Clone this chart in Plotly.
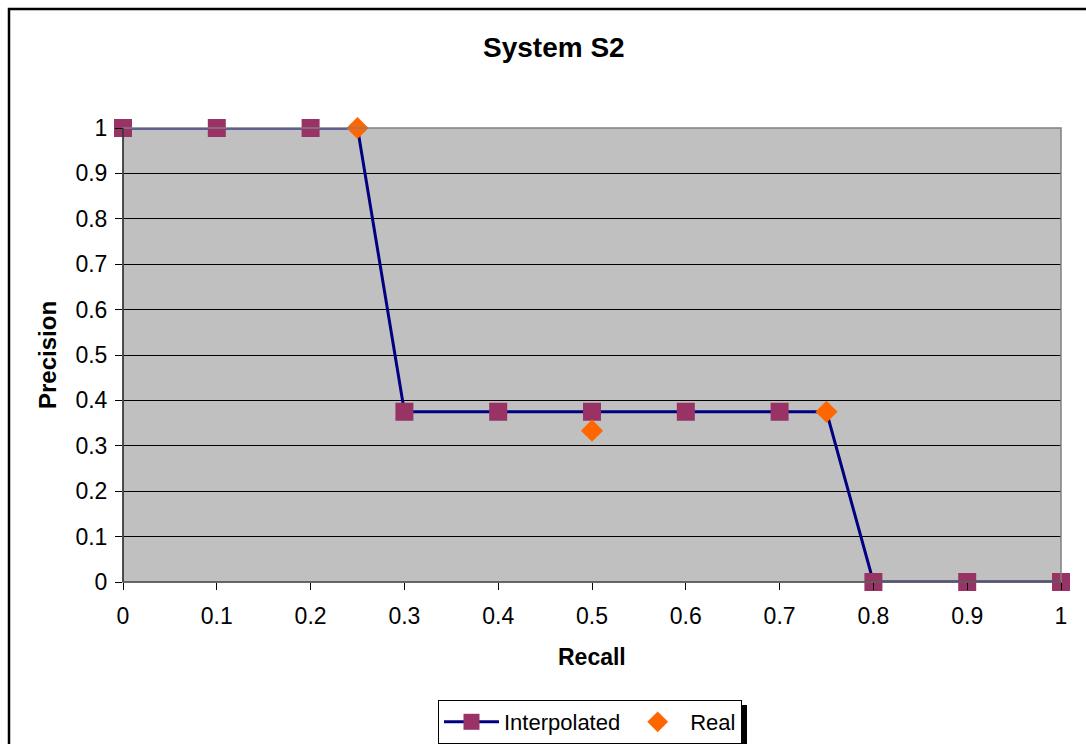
import plotly.graph_objects as go

# ---- data ----
recall_levels = [0.0, 0.1, 0.2, 0.3, 0.4, 0.5, 0.6, 0.7, 0.8, 0.9, 1.0]
interp_precision = [1.0, 1.0, 1.0, 0.375, 0.375, 0.375, 0.375, 0.375, 0.0, 0.0, 0.0]
line_recall = [0.0, 0.1, 0.2, 0.25, 0.3, 0.4, 0.5, 0.6, 0.7, 0.75, 0.8, 0.9, 1.0]
line_precision = [1.0, 1.0, 1.0, 1.0, 0.375, 0.375, 0.375, 0.375, 0.375, 0.375, 0.0, 0.0, 0.0]
real_recall = [0.25, 0.5, 0.75]
real_precision = [1.0, 1/3, 0.375]
tick_vals = [0.0, 0.1, 0.2, 0.3, 0.4, 0.5, 0.6, 0.7, 0.8, 0.9, 1.0]
tick_text = ["0", "0.1", "0.2", "0.3", "0.4", "0.5", "0.6", "0.7", "0.8", "0.9", "1"]

W, H = 1086, 744
L, R, T, B = 123, 1061, 128, 582  # plot area in pixels

def px(x):
    return (x - L) / (R - L)

def py(y):
    return (B - y) / (B - T)

FONT = "Liberation Sans, Arial, sans-serif"
LINE_C = "#000080"
SQ_C = "#993366"
DI_C = "#FF6600"

fig = go.Figure()
fig.add_trace(go.Scatter(x=line_recall, y=line_precision, mode="lines",
                         line=dict(color=LINE_C, width=3), showlegend=False,
                         hoverinfo="skip", cliponaxis=False))
fig.add_trace(go.Scatter(x=recall_levels, y=interp_precision, mode="markers",
                         marker=dict(symbol="square", size=18, color=SQ_C),
                         showlegend=False, cliponaxis=False))
fig.add_trace(go.Scatter(x=[None], y=[None], mode="lines+markers", name="Interpolated",
                         line=dict(color=LINE_C, width=3),
                         marker=dict(symbol="square", size=18, color=SQ_C)))
fig.add_trace(go.Scatter(x=real_recall, y=real_precision, mode="markers", name="Real",
                         marker=dict(symbol="diamond", size=17, color=DI_C),
                         cliponaxis=False))

axis_common = dict(
    range=[0, 1], tickvals=tick_vals, ticktext=tick_text,
    ticks="outside", ticklen=7, tickcolor="black", tickwidth=1,
    tickfont=dict(family=FONT, size=23, color="black"),
    showline=False, zeroline=False,
)

fig.update_layout(
    width=W, height=H,
    margin=dict(l=L, r=W - R, t=T, b=H - B, pad=0, autoexpand=False),
    paper_bgcolor="white", plot_bgcolor="#C0C0C0",
    font=dict(family=FONT, size=22, color="black"),
    xaxis=dict(**axis_common, showgrid=False, ticklabelstandoff=6),
    yaxis=dict(**axis_common, showgrid=True, gridcolor="black", gridwidth=1,
               ticklabelstandoff=3),
    showlegend=True,
    legend=dict(orientation="h", x=px(438), xanchor="left",
                y=py(700), yanchor="top", bgcolor="white",
                bordercolor="black", borderwidth=1,
                font=dict(family=FONT, size=22, color="black"),
                itemwidth=55, itemsizing="trace"),
    shapes=[
        # outer chart frame
        dict(type="rect", xref="paper", yref="paper",
             x0=px(9), x1=px(1095), y0=py(760), y1=py(9),
             line=dict(color="black", width=2.5), layer="below"),
        # plot area border
        dict(type="rect", xref="paper", yref="paper",
             x0=0, x1=1, y0=0, y1=1, line=dict(color="#808080", width=1.5)),
        # left axis line
        dict(type="line", xref="paper", yref="paper",
             x0=0, x1=0, y0=0, y1=1, line=dict(color="black", width=1)),
        # bottom axis line
        dict(type="line", xref="paper", yref="paper",
             x0=0, x1=1, y0=0, y1=0, line=dict(color="#555555", width=1.5)),
        # legend shadow
        dict(type="rect", xref="paper", yref="paper",
             x0=px(443), x1=px(747), y0=py(750), y1=py(705),
             fillcolor="black", line=dict(width=0)),
    ],
    annotations=[
        dict(text="<b>System S2</b>", xref="paper", yref="paper",
             x=px(553.5), y=py(48), xanchor="center", yanchor="middle",
             showarrow=False, font=dict(family=FONT, size=28, color="black")),
        dict(text="<b>Recall</b>", xref="paper", yref="paper",
             x=px(592), y=py(657), xanchor="center", yanchor="middle",
             showarrow=False, font=dict(family=FONT, size=23, color="black")),
        dict(text="<b>Precision</b>", xref="paper", yref="paper",
             x=px(47), y=py(355), xanchor="center", yanchor="middle",
             textangle=-90, showarrow=False,
             font=dict(family=FONT, size=24, color="black")),
    ],
)

fig.write_html("out.html")
